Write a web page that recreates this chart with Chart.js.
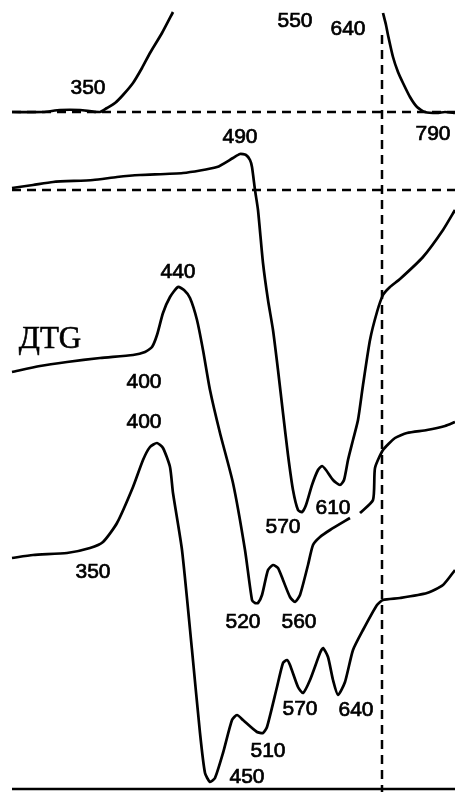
<!DOCTYPE html>
<html>
<head>
<meta charset="utf-8">
<script src="https://cdn.jsdelivr.net/npm/chart.js@4/dist/chart.umd.min.js"></script>
<style>
html,body{margin:0;padding:0;background:#fff;}
canvas{display:block;}
</style>
</head>
<body>
<canvas id="c" width="455" height="792"></canvas>
<script>
// Curves (arbitrary x/y units of the figure)
const topCurveLeft = [[12,112],[43,112],[60,110],[80,110],[100,112],[107,108],[115,103],[123,95],[133,83],[142,68],[150,53],[162,33],[173,12]];
const topCurveRight = [[383,13],[386,25],[388,35],[393,57],[398,72],[403,83],[410,97],[417,107],[425,112],[437,113],[445,112],[455,113]];
const curve490 = [[12,188],[33,185],[53,182],[93,180],[117,177],[140,175],[183,173],[217,167],[233,158],[240,154],[246,155],[250,160],[252,167],[255,190],[258,210],[263,263],[268,300],[273,330],[278,370],[283,413],[288,455],[293,490],[298,510],[302,512],[306,505],[312,485],[318,470],[322,466],[326,470],[333,480],[340,485],[344,480],[348,460],[353,440],[358,420],[363,385],[370,340],[377,312],[383,295],[390,287],[400,279],[423,257],[443,230],[455,210]];
const curveDTG = [[12,372],[40,366],[67,362],[100,358],[133,355],[145,352],[152,347],[157,335],[163,313],[170,297],[178,287],[184,290],[190,298],[197,320],[203,350],[210,390],[220,433],[233,483],[245,550],[252,600],[255,603],[258,603],[262,595],[268,570],[273,565],[278,568],[283,580],[290,597],[295,602],[300,595],[308,565],[313,545],[320,537],[330,530],[350,518],[null,null],[360,513],[373,500],[375,468],[383,450],[395,438],[407,433],[427,430],[445,426],[455,422]];
const curve400 = [[12,558],[33,555],[67,553],[90,548],[103,542],[117,523],[133,487],[143,460],[150,447],[157,443],[163,448],[170,467],[173,493],[182,550],[192,650],[200,733],[205,773],[210,782],[215,778],[223,753],[232,720],[237,715],[243,720],[257,732],[263,733],[267,727],[277,687],[283,663],[287,660],[290,665],[298,687],[303,693],[310,680],[320,653],[323,648],[328,657],[333,680],[338,695],[345,682],[353,650],[363,630],[377,605],[383,600],[400,598],[427,593],[443,585],[455,570]];
const guideTop = [[12,112],[455,112]];
const guideMid = [[12,190],[455,190]];
const guideVert = [[382,35],[382,792]];
const baseLine = [[12,789],[455,789]];
// Peak temperature labels and their anchor points
const peakLabels = ['350','550','640','490','790','440','400','400','350','570','610','520','560','570','640','510','450'];
const peakLabelAt = [[88,88],[295,21],[348,29],[240,137],[433,134],[178,272],[144,382],[144,422],[93,572],[283,527],[333,508],[243,622],[299,622],[300,709],[356,710],[268,751],[247,777]];
const curveTitle = 'ДТG';
const curveTitleAt = [50,340];

function pts(a){return a.map(p=>p[0]===null?{x:null,y:null}:{x:p[0],y:p[1]});}
function solid(a,w){return {data:pts(a),borderColor:'#000',borderWidth:w,pointRadius:0,showLine:true,fill:false,tension:0.2,spanGaps:false};}
function dashed(a){return {data:pts(a),borderColor:'#000',borderWidth:2.5,pointRadius:0,showLine:true,fill:false,borderDash:[9,6],tension:0};}

const labelPlugin = {
  id:'labels',
  beforeDraw(chart){const c=chart.ctx;c.save();c.fillStyle='#fff';c.fillRect(0,0,chart.width,chart.height);c.restore();},
  afterDatasetsDraw(chart){
    const c=chart.ctx, xs=chart.scales.x, ys=chart.scales.y;
    c.save();
    c.fillStyle='#000';c.strokeStyle='#000';c.textAlign='center';c.textBaseline='middle';
    c.font='21px "Liberation Sans", Arial, sans-serif';c.lineWidth=0.7;
    peakLabels.forEach((t,i)=>{const px=xs.getPixelForValue(peakLabelAt[i][0]),py=ys.getPixelForValue(peakLabelAt[i][1]);c.fillText(t,px,py);c.strokeText(t,px,py);});
    c.font='31px "Liberation Serif", serif';c.lineWidth=0.6;
    const tx=xs.getPixelForValue(curveTitleAt[0]),ty=ys.getPixelForValue(curveTitleAt[1]);
    c.fillText(curveTitle,tx,ty);c.strokeText(curveTitle,tx,ty);
    c.restore();
  }
};

new Chart(document.getElementById('c'),{
  type:'scatter',
  data:{datasets:[
    dashed(guideTop),dashed(guideMid),dashed(guideVert),
    solid(baseLine,2.5),
    solid(topCurveLeft,2.7),solid(topCurveRight,2.7),
    solid(curve490,2.7),solid(curveDTG,2.7),solid(curve400,2.7)
  ]},
  options:{
    responsive:false,animation:false,devicePixelRatio:1,
    layout:{padding:0},
    plugins:{legend:{display:false},tooltip:{enabled:false}},
    scales:{
      x:{type:'linear',min:0,max:455,display:false},
      y:{type:'linear',min:0,max:792,reverse:true,display:false}
    }
  },
  plugins:[labelPlugin]
});
</script>
</body>
</html>
